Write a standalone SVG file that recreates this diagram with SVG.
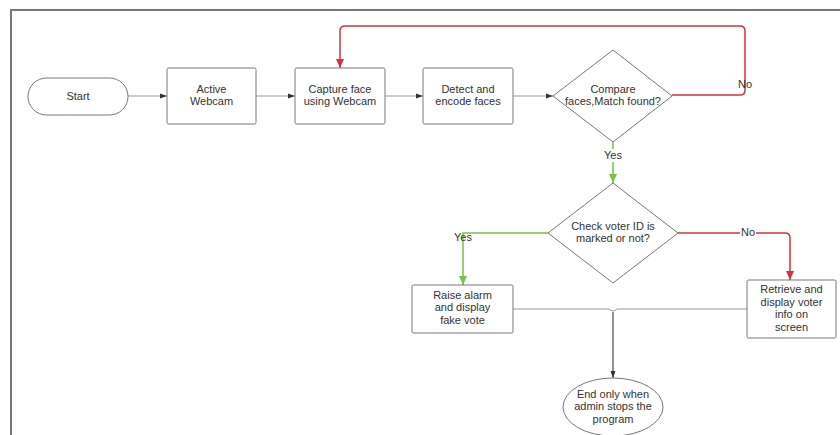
<svg xmlns="http://www.w3.org/2000/svg" width="840" height="435" viewBox="0 0 840 435">
<defs>
<style>
.box{fill:#fff;stroke:#777;stroke-width:1}
.t{font-family:"Liberation Sans",Arial,sans-serif;font-size:11px;fill:#333;text-anchor:middle}
.c{fill:none;stroke:#999;stroke-width:1}
.cd{fill:none;stroke:#555;stroke-width:1.3}
.r{fill:none;stroke:#d9303e;stroke-width:1.5}
.g{fill:none;stroke:#7ac143;stroke-width:1.5}
</style>
<marker id="ak" markerWidth="8" markerHeight="8" refX="7" refY="4" orient="auto" markerUnits="userSpaceOnUse"><path d="M0,1.5 L7,4 L0,6.5 Z" fill="#333"/></marker>
<marker id="ar" markerWidth="10" markerHeight="10" refX="9" refY="5" orient="auto" markerUnits="userSpaceOnUse"><path d="M0,1 L9,5 L0,9 Z" fill="#d9303e"/></marker>
<marker id="ag" markerWidth="10" markerHeight="10" refX="9" refY="5" orient="auto" markerUnits="userSpaceOnUse"><path d="M0,1 L9,5 L0,9 Z" fill="#7ac143"/></marker>
</defs>
<rect width="840" height="435" fill="#fff"/>
<path d="M11,435 V10 H840" fill="none" stroke="#777" stroke-width="2"/>
<g id="connectors">
<path class="c" d="M128,96 H167" marker-end="url(#ak)"/>
<path class="c" d="M256,96 H295" marker-end="url(#ak)"/>
<path class="c" d="M385,96 H423" marker-end="url(#ak)"/>
<path class="c" d="M513,96 H553" marker-end="url(#ak)"/>
<path class="r" d="M672,95 H740 Q745,95 745,90 V31 Q745,26 740,26 H345 Q340,26 340,31 V68" marker-end="url(#ar)"/>
<path class="g" d="M613,142 V149"/>
<path class="g" d="M613,162 V183" marker-end="url(#ag)"/>
<path class="g" d="M548,233 H463 V285" marker-end="url(#ag)"/>
<path class="r" d="M678,233 H740"/>
<path class="r" d="M756,233 H785 Q790,233 790,238 V280" marker-end="url(#ar)"/>
<path class="c" d="M513,309 H609 Q613,313 617,309 H747"/>
<path class="cd" d="M613,312 V378" marker-end="url(#ak)"/>
<text class="t" x="745" y="88">No</text>
<text class="t" x="613" y="159">Yes</text>
<text class="t" x="463" y="241">Yes</text>
<text class="t" x="748" y="236">No</text>
</g>
<g id="start"><rect class="box" x="28" y="78" width="100" height="37" rx="18.5"/><text class="t" x="78" y="100">Start</text></g>
<g id="webcam"><rect class="box" x="167" y="68" width="89" height="56" rx="1.5"/><text class="t" x="211.5" y="93">Active</text><text class="t" x="211.5" y="105">Webcam</text></g>
<g id="capture"><rect class="box" x="295" y="68" width="90" height="56" rx="1.5"/><text class="t" x="340" y="93">Capture face</text><text class="t" x="340" y="105">using Webcam</text></g>
<g id="detect"><rect class="box" x="423" y="68" width="90" height="56" rx="1.5"/><text class="t" x="468" y="93">Detect and</text><text class="t" x="468" y="105">encode faces</text></g>
<g id="compare"><path class="box" d="M613,50 L672,96 L613,142 L553,96 Z"/><text class="t" x="613" y="93">Compare</text><text class="t" x="613" y="105">faces,Match found?</text></g>
<g id="check"><path class="box" d="M613,183 L678,233 L613,283 L548,233 Z"/><text class="t" x="613" y="230">Check voter ID is</text><text class="t" x="613" y="242">marked or not?</text></g>
<g id="raise"><rect class="box" x="412" y="285" width="101" height="48" rx="1.5"/><text class="t" x="462.5" y="299">Raise alarm</text><text class="t" x="462.5" y="311">and display</text><text class="t" x="462.5" y="324">fake vote</text></g>
<g id="retrieve"><rect class="box" x="747" y="280" width="89" height="58" rx="1.5"/><text class="t" x="791.5" y="293">Retrieve and</text><text class="t" x="791.5" y="306">display voter</text><text class="t" x="791.5" y="318">info on</text><text class="t" x="791.5" y="331">screen</text></g>
<g id="end"><ellipse class="box" cx="613" cy="407" rx="50" ry="29"/><text class="t" x="613" y="398">End only when</text><text class="t" x="613" y="410">admin stops the</text><text class="t" x="613" y="423">program</text></g>
</svg>
